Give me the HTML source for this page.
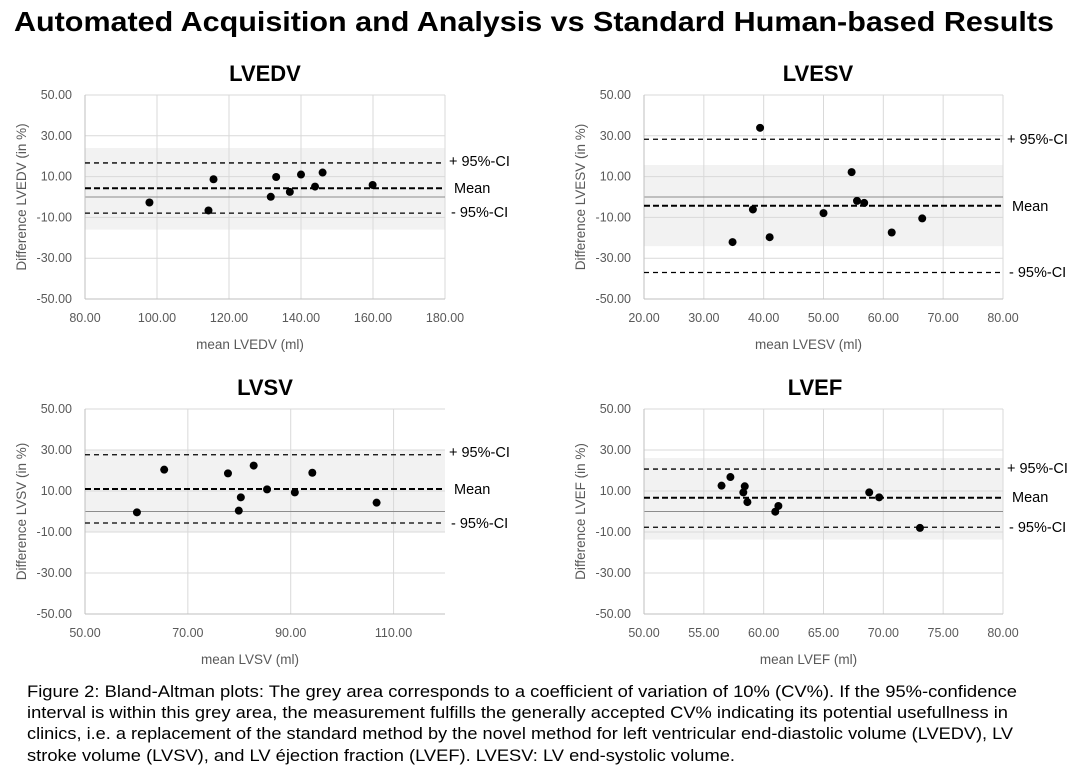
<!DOCTYPE html>
<html><head><meta charset="utf-8">
<style>
html,body{margin:0;padding:0;background:#fff;}
svg{display:block;font-family:"Liberation Sans",sans-serif;}
.tick{font-size:12.5px;fill:#595959;}
.axt{font-size:13.5px;fill:#595959;}
.leg{font-size:14.5px;fill:#000;}
.ptitle{font-size:22px;font-weight:bold;fill:#000;}
</style></head>
<body>
<svg id="fig" width="1073" height="774" viewBox="0 0 1073 774">
<text x="534" y="31" text-anchor="middle" font-size="28" font-weight="bold" textLength="1040" lengthAdjust="spacingAndGlyphs">Automated Acquisition and Analysis vs Standard Human-based Results</text>
<g id="caption" font-size="17" fill="#000">
<text x="27" y="697" textLength="990" lengthAdjust="spacingAndGlyphs">Figure 2: Bland-Altman  plots: The grey area corresponds to a coefficient of variation of 10% (CV%). If the 95%-confidence</text>
<text x="27" y="718" textLength="981" lengthAdjust="spacingAndGlyphs">interval is within this grey area, the measurement fulfills the generally accepted CV% indicating its potential usefullness in</text>
<text x="27" y="739" textLength="986" lengthAdjust="spacingAndGlyphs">clinics, i.e. a replacement of the standard method by the novel method for left ventricular end-diastolic volume (LVEDV), LV</text>
<text x="27" y="761" textLength="708" lengthAdjust="spacingAndGlyphs">stroke volume (LVSV), and LV éjection fraction (LVEF). LVESV: LV end-systolic volume.</text>
</g>
</svg>
<script>
// ---- data ----
const lvedvX = [97.9,115.7,114.3,131.6,133.1,136.9,140.0,143.9,146.0,159.9];
const lvedvY = [-2.7,8.7,-6.6,0.1,9.8,2.5,11.0,5.1,12.0,5.9];
const lvedvLines = [16.7,4.3,-7.9];
const lvedvBand = [24,-16];
const lvedvXTicks = [80,100,120,140,160,180];

const lvesvX = [39.4,54.7,55.6,56.8,38.2,50.0,66.5,61.4,41.0,34.8];
const lvesvY = [33.9,12.2,-1.9,-2.9,-6.1,-7.9,-10.5,-17.4,-19.7,-22.1];
const lvesvLines = [28.3,-4.3,-37.0];
const lvesvBand = [15.7,-24.1];
const lvesvXTicks = [20,30,40,50,60,70,80];

const lvsvX = [60.1,65.4,77.8,82.8,80.3,79.9,85.4,90.8,94.2,106.7];
const lvsvY = [-0.4,20.4,18.6,22.4,6.9,0.4,10.8,9.3,18.9,4.3];
const lvsvLines = [27.7,11.0,-5.6];
const lvsvBand = [30,-9.8];
const lvsvXTicks = [50,70,90,110];

const lvefX = [56.48,57.22,58.42,58.30,58.64,61.23,60.97,68.82,69.65,73.06];
const lvefY = [12.6,16.8,12.3,9.3,4.6,2.7,-0.1,9.3,6.9,-8.0];
const lvefLines = [20.7,6.7,-7.7];
const lvefBand = [26.1,-13.7];
const lvefXTicks = [50,55,60,65,70,75,80];

const yTicks = [50,30,10,-10,-30,-50];
const lineLabels = ["+ 95%-CI","Mean","- 95%-CI"];

const NS="http://www.w3.org/2000/svg";
const svg=document.getElementById('fig');
function mk(tag,attrs,parent,text){const e=document.createElementNS(NS,tag);for(const k in attrs)e.setAttribute(k,attrs[k]);if(text!==undefined)e.textContent=text;parent.appendChild(e);return e;}

function panel(cfg){
  const g=mk('g',{},svg);
  
  
  const {L,R,T,B,xmin,xmax}=cfg;
  const sx=v=>L+(v-xmin)/(xmax-xmin)*(R-L);
  const sy=v=>T+(50-v)/100*(B-T);
  const band=mk('rect',{x:L,y:sy(cfg.band[0]),width:R-L,height:sy(cfg.band[1])-sy(cfg.band[0]),fill:'#f2f2f2'},g);
  
  
  yTicks.forEach(t=>{
    mk('line',{x1:L,x2:R,y1:sy(t),y2:sy(t),stroke:'#d9d9d9','stroke-width':1},g);
    const tl=mk('text',{x:L-13,y:sy(t)+4,'text-anchor':'end',class:'tick'},g,t.toFixed(2));
    
    
  });
  cfg.xt.forEach(t=>{
    mk('line',{x1:sx(t),x2:sx(t),y1:T,y2:B,stroke:'#d9d9d9','stroke-width':1},g);
    const tl=mk('text',{x:sx(t),y:B+23,'text-anchor':'middle',class:'tick'},g,t.toFixed(2));
    
    
  });
  mk('line',{x1:L,x2:R,y1:sy(0),y2:sy(0),stroke:'#8c8c8c','stroke-width':1},g);
  mk('line',{x1:L,x2:L,y1:T,y2:B,stroke:'#bfbfbf','stroke-width':1},g);
  mk('line',{x1:L,x2:R,y1:B,y2:B,stroke:'#bfbfbf','stroke-width':1},g);
  cfg.lines.forEach((v,i)=>{
    const ln=mk('line',{x1:L,x2:R,y1:sy(v),y2:sy(v),stroke:'#000','stroke-width':i==1?2:1.3,'stroke-dasharray':i==1?'6,3':'5,4'},g);
    
    
  });
  cfg.legY.forEach((y,i)=>{
    const t=mk('text',{x:R+4+(i==1?5:(i==2?2:0)),y:y,class:'leg'},g,lineLabels[i]);
    
    
  });
  cfg.xs.forEach((x,i)=>{
    const c=mk('circle',{cx:sx(x),cy:sy(cfg.ys[i]),r:4,fill:'#000'},g);
    
    
  });
  const tt=mk('text',{x:cfg.tx,y:T-14,'text-anchor':'middle',class:'ptitle'},g,cfg.title);
  
  
  const xa=mk('text',{x:(L+R)/2-15,y:B+50,'text-anchor':'middle',class:'axt'},g,cfg.xlab);
  
  
  const cy=(T+B)/2;
  const ya=mk('text',{x:0,y:0,'text-anchor':'middle',class:'axt',transform:`translate(${L-59},${cy}) rotate(-90)`},g,cfg.ylab);
  
  
}

panel({id:'lvedv',title:'LVEDV',tx:265,L:85,R:445,T:95,B:299,xmin:80,xmax:180,xt:lvedvXTicks,xs:lvedvX,ys:lvedvY,lines:lvedvLines,band:lvedvBand,legY:[166,193,217],xlab:'mean LVEDV (ml)',ylab:'Difference LVEDV (in %)'});
panel({id:'lvesv',title:'LVESV',tx:818,L:644,R:1003,T:95,B:299,xmin:20,xmax:80,xt:lvesvXTicks,xs:lvesvX,ys:lvesvY,lines:lvesvLines,band:lvesvBand,legY:[144,211,277],xlab:'mean LVESV (ml)',ylab:'Difference LVESV (in %)'});
panel({id:'lvsv',title:'LVSV',tx:265,L:85,R:445,T:409,B:614,xmin:50,xmax:120,xt:lvsvXTicks,xs:lvsvX,ys:lvsvY,lines:lvsvLines,band:lvsvBand,legY:[457,494,528],xlab:'mean LVSV (ml)',ylab:'Difference LVSV (in %)'});
panel({id:'lvef',title:'LVEF',tx:815,L:644,R:1003,T:409,B:614,xmin:50,xmax:80,xt:lvefXTicks,xs:lvefX,ys:lvefY,lines:lvefLines,band:lvefBand,legY:[473,502,532],xlab:'mean LVEF (ml)',ylab:'Difference LVEF (in %)'});
</script>
</body></html>
